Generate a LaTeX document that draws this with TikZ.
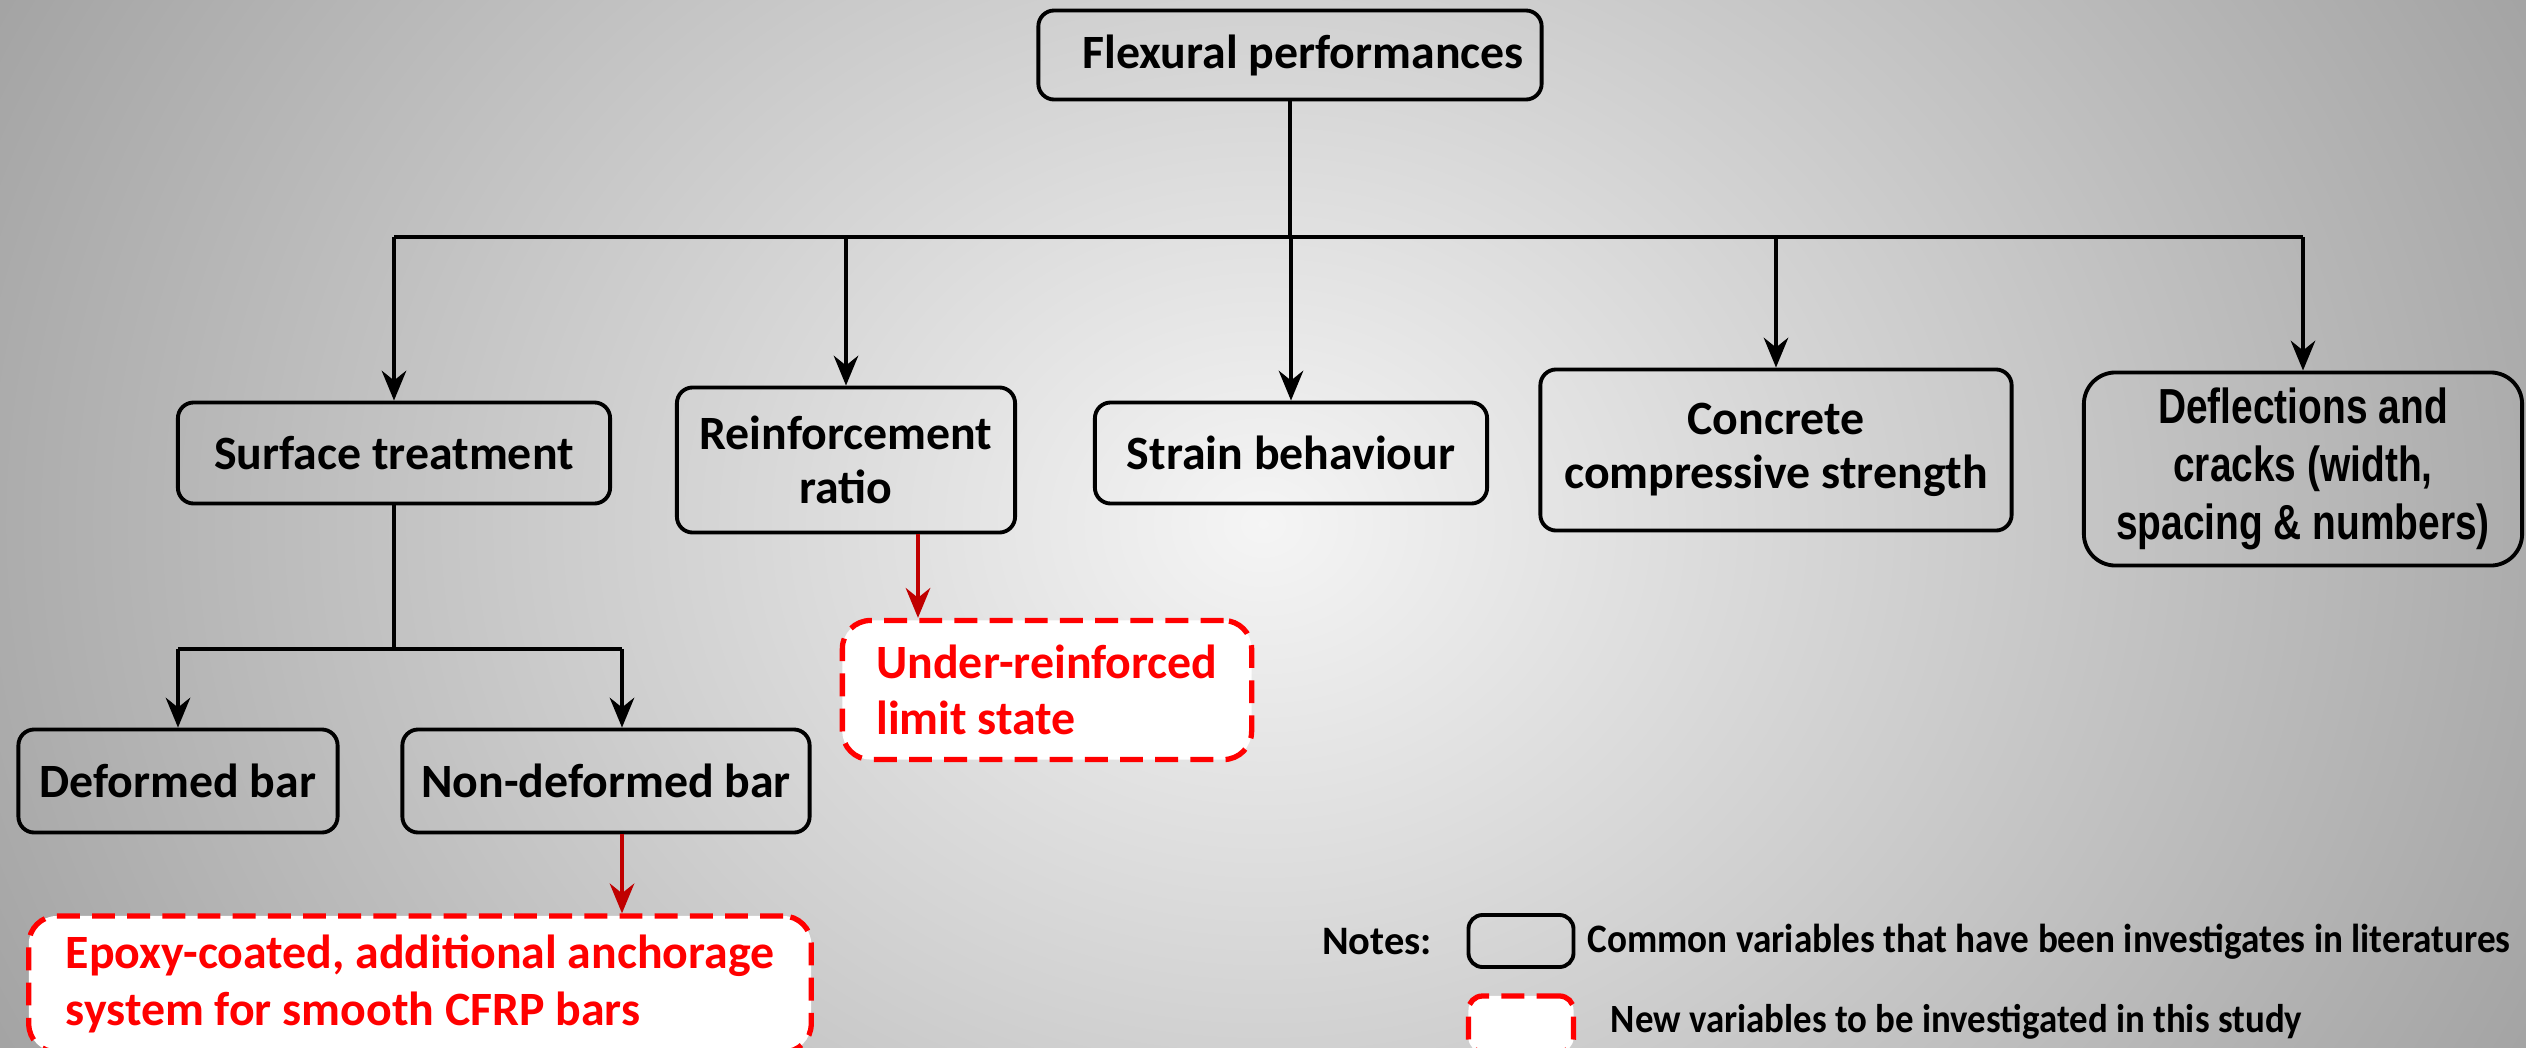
\documentclass[tikz,border=0pt]{standalone}
\usepackage{fontspec}
\setmainfont{Carlito}
\newfontfamily\narrowfont[FakeStretch=0.79]{Liberation Sans}
\newfontfamily\cndfont[FakeStretch=0.92]{Carlito}
\usetikzlibrary{arrows.meta,shadings}
\definecolor{newred}{HTML}{FF0000}
\definecolor{arrred}{HTML}{C00000}
\tikzset{
  oldbox/.style={draw=black, line width=1.1pt, rounded corners=4.5pt, align=center,
    inner sep=0pt, font=\fontsize{13.6}{15.5}\selectfont\bfseries},
  newbox/.style={draw=newred, fill=white, line width=1.5pt, dash pattern=on 6.5pt off 3.5pt,
    rounded corners=8pt, align=left, inner ysep=0pt, text=newred,
    font=\fontsize{13.6}{16}\selectfont\bfseries},
  conn/.style={line width=0.9pt, black},
  arr/.style={conn, -{Stealth[length=8.5pt,width=7pt,inset=2.8pt]}},
  redarr/.style={line width=0.9pt, arrred, -{Stealth[length=8.5pt,width=7pt,inset=2.8pt]}},
}
\begin{document}
\begin{tikzpicture}[x=0.01cm, y=-0.01cm]
\useasboundingbox (0,0) rectangle (2526,1048);
\begin{scope}
\clip (0,0) rectangle (2526,1048);
\shade[inner color=black!4, outer color=black!37] (-200,-700) rectangle (2726,1748);
\end{scope}

% main nodes
\node[oldbox, minimum width=5.03cm, minimum height=0.89cm] (fp) at (1290,55) {\hspace*{7.5pt}Flexural performances};
\node[oldbox, minimum width=4.32cm, minimum height=1.01cm] (st) at (394,453) {Surface treatment};
\node[oldbox, minimum width=3.38cm, minimum height=1.45cm] (rr) at (846,460) {Reinforcement\\ratio};
\node[oldbox, minimum width=3.92cm, minimum height=1.01cm] (sb) at (1291,453) {Strain behaviour};
\node[oldbox, minimum width=4.71cm, minimum height=1.61cm] (cc) at (1776,450) {Concrete\\compressive strength};
\node[oldbox, rounded corners=9pt, minimum width=4.38cm, minimum height=1.93cm,
  font=\fontsize{14}{16.5}\selectfont\narrowfont\bfseries] (dc) at (2303,469) {Deflections and\\cracks (width,\\spacing \& numbers)};
\node[oldbox, minimum width=3.19cm, minimum height=1.03cm] (db) at (178,781) {Deformed bar};
\node[oldbox, minimum width=4.07cm, minimum height=1.03cm] (nd) at (606,781) {Non-deformed bar};

\node[newbox, inner xsep=0.34cm, minimum height=1.39cm] (ur) at (1047,690) {Under-reinforced\\limit state};
\node[newbox, inner xsep=0.37cm, minimum height=1.36cm, font=\fontsize{13.6}{16.3}\selectfont\bfseries] (ep) at (420,984) {Epoxy-coated, additional anchorage\\system for smooth CFRP bars};

% connectors
\coordinate (bus) at (1290,237);
\coordinate (sub) at (394,649);
\coordinate (ndx) at (622,649);
\coordinate (rrx) at (918,0);
\draw[conn] (fp.south) -- (bus);
\draw[conn] (bus -| st.north) -- (bus -| dc.north);
\draw[arr] (bus -| st.north) -- (st.north);
\draw[arr] (bus -| rr.north) -- (rr.north);
\draw[arr] (bus -| sb.north) -- (sb.north);
\draw[arr] (bus -| cc.north) -- (cc.north);
\draw[arr] (bus -| dc.north) -- (dc.north);
\draw[conn] (st.south) -- (sub);
\draw[conn] (sub -| db.north) -- (ndx);
\draw[arr] (sub -| db.north) -- (db.north);
\draw[arr] (ndx) -- (ndx |- nd.north);
\draw[redarr] (ndx |- nd.south) -- (ndx |- ep.north);
\draw[redarr] (rrx |- rr.south) -- (rrx |- ur.north);

% legend
\node[font=\fontsize{11.5}{13}\selectfont\bfseries] (notes) at (1377,942) {Notes:};
\node[draw=black, line width=1.1pt, rounded corners=4pt, minimum width=1.05cm, minimum height=0.52cm] (lg1) at (1521,941) {};
\node[draw=newred, fill=white, line width=1.5pt, dash pattern=on 6.5pt off 3.5pt, rounded corners=4pt, minimum width=1.05cm, minimum height=0.56cm] (lg2) at (1521,1024) {};
\node[anchor=west, font=\fontsize{11.5}{13}\selectfont\cndfont\bfseries, inner sep=0pt] (lt1) at (1587,942) {Common variables that have been investigates in literatures};
\node[anchor=west, font=\fontsize{11.4}{13}\selectfont\cndfont\bfseries, inner sep=0pt] (lt2) at (1610,1022) {New variables to be investigated in this study};
\end{tikzpicture}
\end{document}
